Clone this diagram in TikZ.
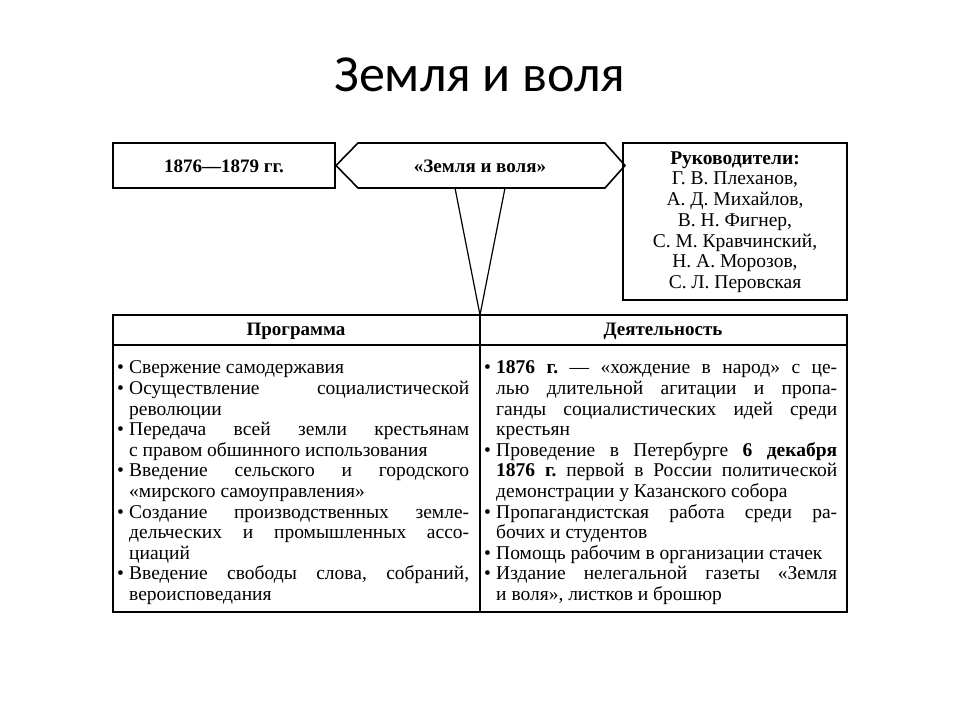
\documentclass[tikz,border=0pt]{standalone}
\usepackage{fontspec}
\setmainfont{Liberation Serif}
\newfontfamily\titlefont{Carlito}
\frenchspacing
\tikzset{box/.style={draw=black,line width=1.6pt},
  col/.style={anchor=north west,inner sep=0pt,align=justify,font=\fontsize{19.5}{20.6}\selectfont}}
\newcommand{\itm}{\par\noindent\hangindent=12pt\hangafter=1\makebox[12pt][l]{•}}
\begin{document}
\begin{tikzpicture}[x=1pt,y=-1pt]
\useasboundingbox (0,0) rectangle (960,720);
\node[font=\titlefont\fontsize{52}{58}\selectfont] (title) at (480,75) {Земля и воля};
\draw[box] (113,143) rectangle (335,188);
\node[font=\bfseries\fontsize{19}{20}\selectfont] (years) at (224,166) {1876—1879 гг.};
\draw[box] (336,165.5) -- (358,143) -- (605,143) -- (625,165.5) -- (605,188) -- (358,188) -- cycle;
\node[font=\bfseries\fontsize{19}{20}\selectfont] (zv) at (480,166) {«Земля и воля»};
\draw[box] (623,143) rectangle (847,300);
\node[align=center,font=\fontsize{19.5}{20.7}\selectfont] (lead) at (735,222) {\textbf{Руководители:}\\Г. В. Плеханов,\\А. Д. Михайлов,\\В. Н. Фигнер,\\С. М. Кравчинский,\\Н. А. Морозов,\\С. Л. Перовская};
\coordinate (v) at (480,315);
\draw[line width=1.2pt] (455,188) -- (v) -- (505,188);
\draw[box] (113,315) rectangle (847,612);
\draw[line width=1.4pt] (113,345) -- (847,345);
\draw[line width=1.4pt] (480,315) -- (480,612);
\node[font=\bfseries\fontsize{19}{20}\selectfont] (prog) at (296,331) {Программа};
\node[font=\bfseries\fontsize{19}{20}\selectfont] (deyat) at (663,331) {Деятельность};
\node[col,text width=352pt] (left) at (117,353) {%
\itm Свержение самодержавия
\itm Осуществление социалистической\linebreak революции
\itm Передача всей земли крестьянам\linebreak с правом обшинного использования
\itm Введение сельского и городского\linebreak «мирского самоуправления»
\itm Создание производственных земле-\linebreak дельческих и промышленных ассо-\linebreak циаций
\itm Введение свободы слова, собраний,\linebreak вероисповедания\par};
\node[col,text width=353pt] (right) at (484,353) {%
\itm \textbf{1876 г.} — «хождение в народ» с це-\linebreak лью длительной агитации и пропа-\linebreak ганды социалистических идей среди\linebreak крестьян
\itm Проведение в Петербурге \textbf{6 декабря}\linebreak \textbf{1876 г.} первой в России политической\linebreak демонстрации у Казанского собора
\itm Пропагандистская работа среди ра-\linebreak бочих и студентов
\itm Помощь рабочим в организации стачек
\itm Издание нелегальной газеты «Земля\linebreak и воля», листков и брошюр\par};
\end{tikzpicture}
\end{document}
